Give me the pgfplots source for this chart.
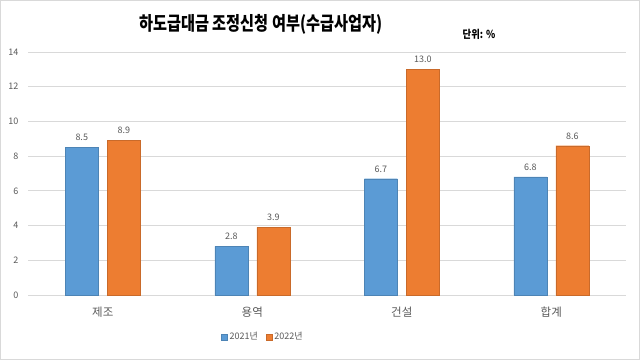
\documentclass[border=0pt]{standalone}
\usepackage{fontspec}
\setmainfont{Noto Sans CJK KR}
\usepackage{graphicx}
\usepackage{pgfplots}
\pgfplotsset{compat=1.18}
\definecolor{cblue}{HTML}{5B9BD5}
\definecolor{corange}{HTML}{ED7D31}
\definecolor{gridc}{HTML}{D9D9D9}
\definecolor{txt}{HTML}{595959}
\begin{document}
\begin{tikzpicture}[x=1pt,y=1pt]
\draw[gridc, line width=1pt] (0.5,0.5) rectangle (639.5,359.5);
\begin{axis}[
  at={(28pt,65pt)}, anchor=south west,
  scale only axis, width=598pt, height=243pt,
  ybar=9pt, bar width=33pt,
  xmin=-0.5, xmax=3.5, ymin=0, ymax=14,
  ytick={0,2,...,14},
  xtick=data, xticklabels={제조,용역,건설,합계},
  axis line style={draw=none},
  major tick length=0pt,
  ymajorgrids, grid style={gridc, line width=0.8pt},
  /pgf/number format/assume math mode=true,
  yticklabel style={font=\fontsize{9}{10}\selectfont, text=txt, xshift=-6pt},
  xticklabel style={font=\fontsize{11.5}{13}\selectfont, text=txt, yshift=-8pt},
  nodes near coords,
  nodes near coords style={font=\fontsize{9}{10}\selectfont, text=txt, yshift=3pt},
  point meta=explicit symbolic,
  legend style={at={(235pt,-42pt)}, anchor=center, draw=none, legend columns=2,
    font=\fontsize{9}{10}\selectfont, text=txt,
    /tikz/every even column/.append style={column sep=6pt}},
  legend image code/.code={\fill[#1] (0pt,-3pt) rectangle (6pt,3pt);},
]
\addplot[fill=cblue, draw=cblue!85!black, line width=0.3pt] coordinates {(0,8.5)[8.5] (1,2.8)[2.8] (2,6.7)[6.7] (3,6.8)[6.8]};
\addplot[fill=corange, draw=corange!85!black, line width=0.3pt] coordinates {(0,8.9)[8.9] (1,3.9)[3.9] (2,13.0)[13.0] (3,8.6)[8.6]};
\legend{2021년,2022년}
\end{axis}
\node at (261,336) {\scalebox{0.8}[1]{\bfseries\fontsize{19}{21}\selectfont 하도급대금 조정신청 여부(수급사업자)}};
\node at (479,326) {\scalebox{0.85}[1]{\bfseries\fontsize{11}{13}\selectfont 단위: \%}};
\end{tikzpicture}
\end{document}
